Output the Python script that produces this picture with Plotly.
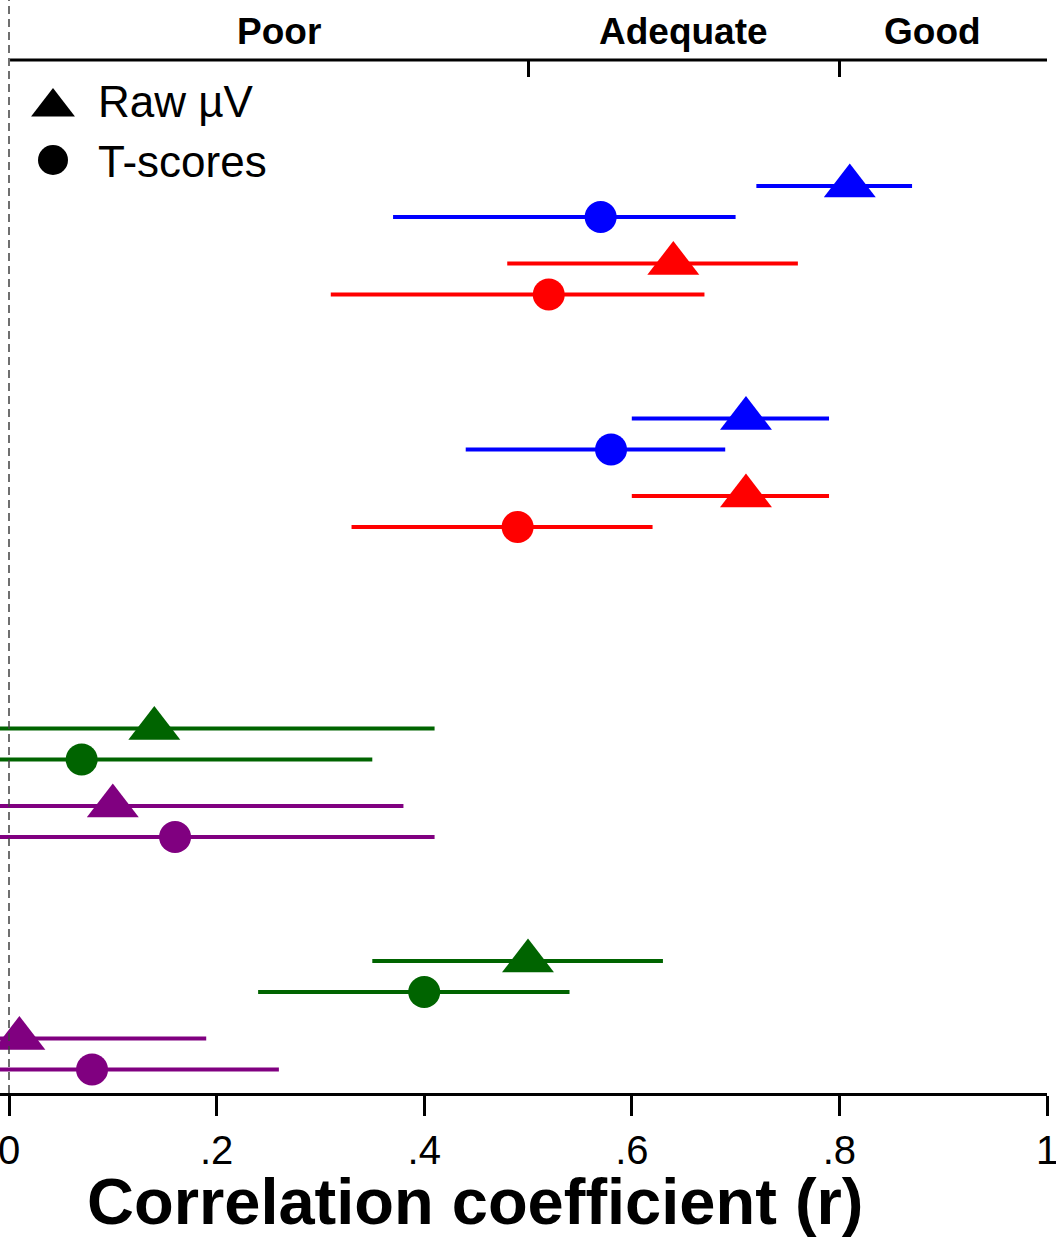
import plotly.graph_objects as go

# ---------------- data ----------------
# Four blocks, each with two outcomes; every outcome has a Raw µV (triangle)
# and a T-scores (circle) estimate with 95% CI.
block = [0, 0, 1, 1, 2, 2, 3, 3]
outcome = ["blue", "red", "blue", "red", "green", "purple", "green", "purple"]

raw_r = [0.81, 0.64, 0.71, 0.71, 0.14, 0.10, 0.50, 0.01]
raw_lo = [0.72, 0.48, 0.60, 0.60, -0.15, -0.20, 0.35, -0.17]
raw_hi = [0.87, 0.76, 0.79, 0.79, 0.41, 0.38, 0.63, 0.19]

t_r = [0.57, 0.52, 0.58, 0.49, 0.07, 0.16, 0.40, 0.08]
t_lo = [0.37, 0.31, 0.44, 0.33, -0.22, -0.11, 0.24, -0.11]
t_hi = [0.70, 0.67, 0.69, 0.62, 0.35, 0.41, 0.54, 0.26]

x_ticks = [0, 0.2, 0.4, 0.6, 0.8, 1.0]
x_ticktext = ["0", ".2", ".4", ".6", ".8", "1"]

band_cuts = [0.5, 0.8]
band_labels = ["Poor", "Adequate", "Good"]
band_label_pos = [0.26, 0.65, 0.89]

legend_labels = ["Raw \u00b5V", "T-scores"]

# ---------------- styles / layout ----------------
COLORS = {"blue": "#0000FF", "red": "#FF0000", "green": "#006400", "purple": "#800080"}
FONT = "Liberation Sans, Arial, sans-serif"
block_start = {0: 0, 1: 3, 2: 7, 3: 10}
t_offset = 0.4

# row positions
rows = []
seen = {}
for b in block:
    k = seen.get(b, 0)
    rows.append(block_start[b] + k)
    seen[b] = k + 1

fig = go.Figure()

for i in range(len(block)):
    col = COLORS[outcome[i]]
    for r, lo, hi, yoff, sym, size in [
        (raw_r[i], raw_lo[i], raw_hi[i], 0.0, "triangle-up", 45),
        (t_r[i], t_lo[i], t_hi[i], t_offset, "circle", 32),
    ]:
        fig.add_trace(go.Scatter(
            x=[r], y=[rows[i] + yoff], mode="markers",
            marker=dict(symbol=sym, size=size, color=col, opacity=1, line=dict(width=0)),
            error_x=dict(type="data", symmetric=False, array=[hi - r], arrayminus=[r - lo],
                         color=col, thickness=4, width=0),
            showlegend=False, hoverinfo="skip", cliponaxis=True,
        ))

# dummy trace for top axis
fig.add_trace(go.Scatter(x=[None], y=[None], xaxis="x2", yaxis="y", showlegend=False, hoverinfo="skip"))

# legend keys on a pixel-frame overlay axis
leg_x = 53
leg_y = [107, 160]
fig.add_trace(go.Scatter(
    x=[leg_x, leg_x], y=leg_y, xaxis="x3", yaxis="y3", mode="markers",
    marker=dict(symbol=["triangle-up", "circle"], size=[38, 30], color="#000000", opacity=1,
                line=dict(width=0)),
    opacity=1, showlegend=False, hoverinfo="skip", cliponaxis=False,
))

PLOT_W = 1047
TOP, BOT = 60, 1093
PH = BOT - TOP
x0_px = 9
x_per = 1038
row0_px = 186
row_px = 77.5
xrange = [-x0_px / x_per, (PLOT_W - x0_px) / x_per]

annotations = []
for lab, text_y in zip(legend_labels, [101, 161]):
    annotations.append(dict(x=96, y=text_y, xref="x3", yref="y3", text=lab, showarrow=False,
                            xanchor="left", yanchor="middle",
                            font=dict(family=FONT, size=44, color="black")))

for lab, pos in zip(band_labels, band_label_pos):
    annotations.append(dict(x=pos, y=1 + (TOP - 31) / PH, xref="x", yref="paper", text="<b>%s</b>" % lab,
                            showarrow=False, xanchor="center", yanchor="middle",
                            font=dict(family=FONT, size=37, color="black")))

annotations.append(dict(x=475 / PLOT_W, y=-(1201 - BOT) / PH, xref="paper", yref="paper",
                        text="<b>Correlation coefficient (r)</b>", showarrow=False,
                        xanchor="center", yanchor="middle",
                        font=dict(family=FONT, size=65, color="black")))

shapes = [
    # dashed zero reference line
    dict(type="line", xref="x", yref="paper", x0=0, x1=0, y0=0, y1=1 + TOP / PH,
         line=dict(color="#404040", width=1.5, dash="8px,5px")),
    # top axis line
    dict(type="line", xref="x", yref="paper", x0=0.001, x1=1.0,
         y0=1, y1=1, line=dict(color="black", width=3)),
]

fig.update_layout(
    width=1056, height=1240,
    margin=dict(l=0, r=1056 - PLOT_W, t=TOP, b=1240 - BOT, pad=0),
    paper_bgcolor="white", plot_bgcolor="white",
    template="none",
    showlegend=False,
    font=dict(family=FONT, color="black"),
    xaxis=dict(
        range=xrange,
        tickmode="array", tickvals=x_ticks, ticktext=x_ticktext,
        ticks="outside", ticklen=20, tickwidth=3, tickcolor="black",
        tickfont=dict(family=FONT, size=40, color="black"),
        ticklabeloverflow="allow",
        showline=True, linewidth=3, linecolor="black",
        showgrid=False, zeroline=False, automargin=False,
    ),
    xaxis2=dict(
        overlaying="x", side="top", anchor="y",
        range=xrange,
        tickmode="array", tickvals=band_cuts, showticklabels=False,
        ticks="inside", ticklen=17, tickwidth=3, tickcolor="black",
        showline=False, showgrid=False, zeroline=False, automargin=False,
    ),
    yaxis=dict(
        range=[(BOT - row0_px) / row_px, (TOP - row0_px) / row_px],
        visible=False, showgrid=False, zeroline=False, automargin=False,
    ),
    xaxis3=dict(overlaying="x", anchor="y3", range=[0, PLOT_W], visible=False, automargin=False),
    yaxis3=dict(overlaying="y", anchor="x3", range=[BOT, TOP], visible=False, automargin=False),
    annotations=annotations,
    shapes=shapes,
)

fig.write_html(
    "out.html",
    config={"displayModeBar": False},
    post_script="document.body.style.margin='0';document.body.style.overflow='hidden';",
)
